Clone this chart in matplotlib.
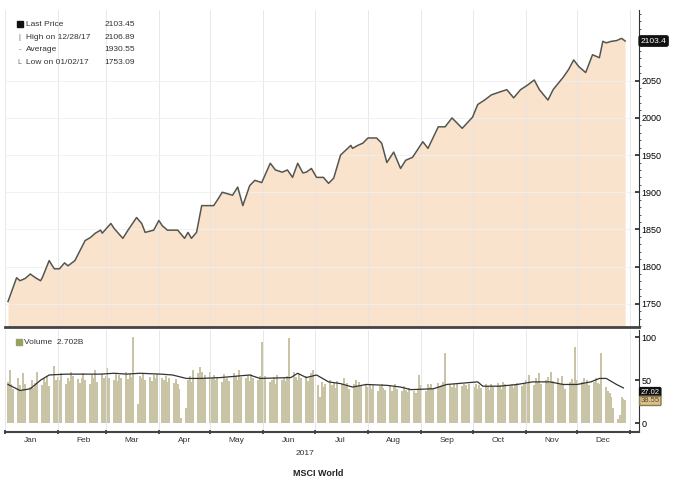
import numpy as np
import pandas as pd
import matplotlib
matplotlib.use("Agg")
import matplotlib.pyplot as plt
import matplotlib.dates as mdates
from matplotlib.ticker import MultipleLocator

plt.rcParams['font.family'] = ['Liberation Sans Narrow', 'Liberation Sans', 'DejaVu Sans']

# price (day of year 2017, index level)
price_doy = [3, 8, 10, 13, 16, 19, 22, 23, 27, 30, 33, 36, 38, 42, 48, 51, 54, 57, 58, 63,
             65, 70, 73, 78, 81, 83, 88, 91, 93, 96, 102, 106, 108, 110, 113, 116, 123, 125, 128, 134,
             137, 140, 144, 147, 151, 156, 159, 163, 166, 169, 172, 175, 177, 180, 183, 187, 190, 193, 197, 203,
             204, 207, 210, 213, 218, 221, 224, 228, 232, 235, 239, 245, 248, 254, 258, 262, 265, 268, 274, 277,
             281, 285, 290, 294, 298, 302, 306, 310, 313, 318, 321, 327, 330, 333, 336, 340, 344, 348, 350, 352,
             355, 358, 361, 363]
price_val = [1753, 1785, 1781, 1784, 1790, 1785, 1781, 1785, 1808, 1797, 1797, 1805, 1801, 1808, 1835, 1839, 1845, 1849, 1845, 1858,
             1851, 1838, 1849, 1866, 1858, 1846, 1849, 1862, 1855, 1849, 1849, 1838, 1846, 1838, 1846, 1882, 1882, 1889, 1900, 1896,
             1907, 1882, 1909, 1916, 1913, 1939, 1930, 1927, 1930, 1920, 1939, 1926, 1927, 1932, 1920, 1920, 1912, 1919, 1950, 1963,
             1959, 1963, 1966, 1973, 1973, 1966, 1940, 1954, 1932, 1943, 1947, 1968, 1959, 1988, 1988, 2000, 1993, 1986, 2001, 2018,
             2024, 2031, 2035, 2038, 2027, 2038, 2044, 2051, 2038, 2024, 2038, 2055, 2065, 2078, 2069, 2061, 2085, 2081, 2103, 2101,
             2103, 2104, 2107, 2103.45]

# daily volume (per month, trading days)
vol_jan = [48, 62, 45, 40, 52, 44, 38, 58, 46, 42, 50, 41, 47, 60, 44, 52, 48, 55, 43, 66, 50]
vol_feb = [54, 50, 58, 46, 52, 49, 60, 55, 51, 47, 53, 58, 50, 45, 56, 52, 62, 48, 57, 53]
vol_mar = [55, 64, 52, 50, 58, 49, 56, 53, 60, 51, 57, 54, 100, 22, 55, 52, 58, 50, 54, 49, 56, 53, 57]
vol_apr = [52, 50, 55, 48, 53, 47, 51, 45, 40, 6, 18, 50, 55, 48, 62, 58, 65, 60, 52, 56]
vol_may = [60, 52, 56, 50, 54, 48, 57, 51, 53, 49, 58, 55, 50, 62, 54, 52, 56, 49, 57, 53, 50, 55, 94]
vol_jun = [52, 55, 48, 50, 54, 46, 56, 50, 53, 49, 55, 99, 60, 54, 50, 57, 52, 55, 49, 53, 58, 62]
vol_jul = [44, 30, 48, 42, 46, 50, 44, 47, 41, 49, 45, 52, 43, 47, 40, 46, 50, 42, 48, 44, 46]
vol_aug = [42, 45, 40, 44, 38, 43, 46, 41, 39, 44, 37, 42, 45, 40, 38, 43, 39, 36, 41, 38, 35, 40, 56]
vol_sep = [44, 38, 46, 42, 45, 40, 47, 43, 44, 48, 82, 46, 42, 45, 41, 47, 43, 46, 44, 40, 45]
vol_oct = [42, 45, 40, 44, 41, 46, 43, 39, 45, 42, 47, 44, 40, 48, 45, 43, 46, 41, 44, 47, 43, 45]
vol_nov = [50, 46, 56, 44, 52, 48, 58, 45, 50, 54, 47, 60, 49, 52, 46, 55, 44, 40, 48, 51, 47, 88]
vol_dec = [50, 48, 52, 46, 50, 44, 48, 52, 47, 45, 82, 42, 38, 35, 30, 18, 5, 10, 30, 28, 27]

# volume moving average line
ma_doy = [3, 4, 10, 16, 22, 27, 37, 57, 65, 72, 80, 92, 99, 107, 115, 127, 144, 150, 168, 172,
          177, 183, 190, 197, 204, 212, 224, 232, 238, 251, 259, 277, 280, 290, 300, 309, 319, 327, 335, 343,
          348, 352, 358, 362]
ma_val = [45, 44, 38, 40, 50, 56, 57, 57, 58, 57, 58, 57, 56, 52, 52, 53, 56, 52, 53, 58,
          53, 56, 48, 46, 42, 45, 44, 42, 39, 40, 45, 48, 43, 43, 45, 48, 48, 45, 45, 48,
          52, 52, 45, 41]

legend_rows = [("Last Price", "2103.45"), ("High on 12/28/17", "2106.89"),
               ("Average", "1930.55"), ("Low on 01/02/17", "1753.09")]

start = pd.Timestamp("2017-01-01")
p_dates = start + pd.to_timedelta(np.array(price_doy) - 1, unit="D")
m_dates = start + pd.to_timedelta(np.array(ma_doy) - 1, unit="D")
volume = (vol_jan + vol_feb + vol_mar + vol_apr + vol_may + vol_jun +
          vol_jul + vol_aug + vol_sep + vol_oct + vol_nov + vol_dec)
v_dates = pd.bdate_range("2017-01-03", periods=len(volume))

fig = plt.figure(figsize=(6.74, 4.82), dpi=100)
ax = fig.add_axes([0.0068, 0.322, 0.941, 0.657])
axv = fig.add_axes([0.0068, 0.104, 0.941, 0.211], sharex=ax)

xmin, xmax = pd.Timestamp("2017-01-01"), pd.Timestamp("2018-01-06")

# price panel
ax.fill_between(p_dates, price_val, 1700, color="#fae3cc", lw=0)
ax.plot(p_dates, price_val, color="#555550", lw=1.1)
ax.set_xlim(xmin, xmax)
ax.set_ylim(1719, 2145)
ax.yaxis.tick_right()
ax.yaxis.set_minor_locator(MultipleLocator(10))
ax.set_yticks([1750, 1800, 1850, 1900, 1950, 2000, 2050])
ax.tick_params(axis="y", labelsize=6.5, length=3, width=1.2, color="#222222", pad=2, direction="in")
ax.tick_params(axis="y", which="minor", length=1.5, color="#444444")
ax.tick_params(axis="x", which="both", bottom=False, labelbottom=False)
for s in ["top", "left"]:
    ax.spines[s].set_visible(False)
ax.spines["right"].set_color("#333333")
ax.spines["bottom"].set_color("#444444")
ax.spines["bottom"].set_linewidth(2)
ax.grid(True, axis="x", color="#e4e4e4", lw=0.6)
ax.grid(True, axis="y", color="#f0f0f0", lw=0.6)

ax.text(1.003, (2103.45 - 1719) / (2145 - 1719), "2103.4", transform=ax.transAxes,
        color="white", fontsize=6, va="center", ha="left",
        bbox=dict(boxstyle="round,pad=0.2", fc="#111111", ec="#111111"))

# legend block
for i, (lab, val) in enumerate(legend_rows):
    y = 0.955 - i * 0.04
    ax.text(0.033, y, lab, transform=ax.transAxes, fontsize=6, color="#333333", va="center")
    ax.text(0.205, y, val, transform=ax.transAxes, fontsize=6, color="#333333", va="center", ha="right")
ax.plot([0.024], [0.955], "s", ms=5, color="#111111", transform=ax.transAxes)
ax.text(0.024, 0.915, "|", transform=ax.transAxes, fontsize=5, color="#666666", va="center", ha="center")
ax.text(0.024, 0.875, "-", transform=ax.transAxes, fontsize=6, color="#666666", va="center", ha="center")
ax.text(0.024, 0.835, "L", transform=ax.transAxes, fontsize=5, color="#666666", va="center", ha="center")

# volume panel
axv.bar(v_dates, volume, width=1.2, color="#c9c4a6", edgecolor="none")
axv.plot(m_dates, ma_val, color="#333333", lw=0.9)
axv.set_ylim(-10, 108)
axv.yaxis.tick_right()
axv.set_yticks([0, 50, 100])
axv.tick_params(axis="y", labelsize=6.5, length=3, width=1.2, color="#222222", pad=2, direction="in")
for s in ["top", "left"]:
    axv.spines[s].set_visible(False)
axv.spines["right"].set_color("#333333")
axv.spines["bottom"].set_color("#444444")
axv.spines["bottom"].set_linewidth(1.5)
axv.grid(True, axis="x", color="#e4e4e4", lw=0.6)
axv.xaxis.set_major_locator(mdates.MonthLocator())
axv.xaxis.set_minor_locator(mdates.MonthLocator(bymonthday=16))
axv.xaxis.set_major_formatter(plt.NullFormatter())
axv.xaxis.set_minor_formatter(mdates.DateFormatter("%b"))
axv.tick_params(axis="x", which="major", length=3, width=1.2, color="#333333", direction="inout")
axv.tick_params(axis="x", which="minor", length=0, labelsize=6, labelcolor="#333333", pad=4)

axv.text(0.03, 0.88, "Volume  2.702B", transform=axv.transAxes, fontsize=6, color="#333333", va="center")
axv.plot([0.022], [0.88], "s", ms=5, color="#9aa060", transform=axv.transAxes)
axv.text(1.003, (36 + 10) / 118, "27.02", transform=axv.transAxes, color="white", fontsize=5.5,
         va="center", ha="left", bbox=dict(boxstyle="round,pad=0.15", fc="#111111", ec="#111111"))
axv.text(1.003, (26 + 10) / 118, "38.55", transform=axv.transAxes, color="#5a4a2a", fontsize=5.5,
         va="center", ha="left", bbox=dict(boxstyle="round,pad=0.15", fc="#d8c08a", ec="#8a7a50"))

fig.text(0.452, 0.056, "2017", fontsize=6, color="#333333", ha="center")
fig.text(0.472, 0.012, "MSCI World", fontsize=6.5, color="#222222", ha="center", weight="bold")

fig.savefig("out.png", dpi=100)
